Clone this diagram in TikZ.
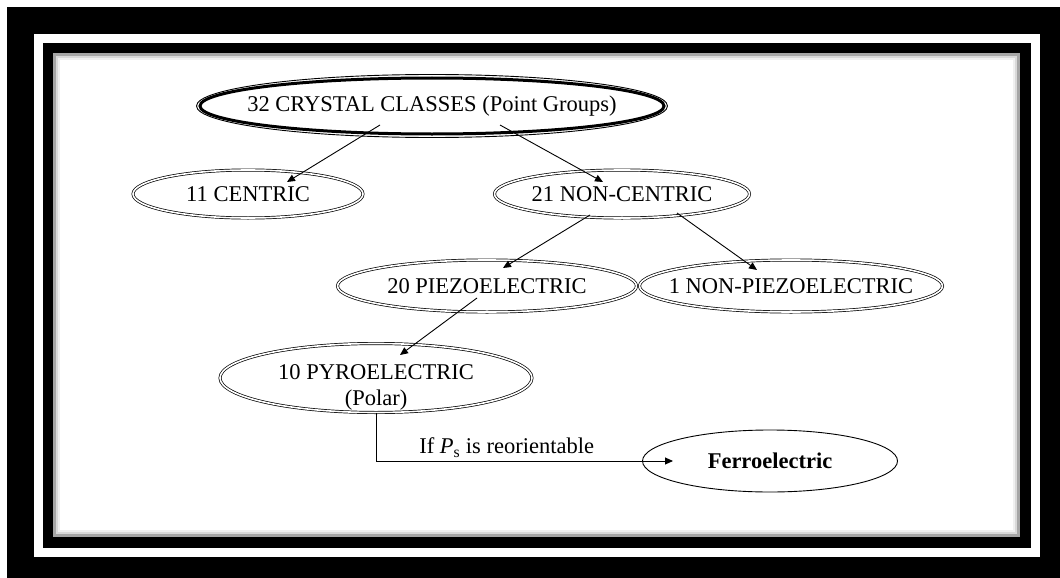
\documentclass[tikz,border=0pt]{standalone}
\usepackage{fontspec}
\setmainfont{Liberation Serif}
\usetikzlibrary{shapes.geometric,arrows.meta,calc}
\newcommand\zbox[1]{\raisebox{-2pt}{\makebox[0pt]{#1}}}
\begin{document}
\begin{tikzpicture}[x=1pt,y=-1pt,
  every node/.style={font=\fontsize{22.5}{26}\selectfont},
  cls/.style={ellipse, draw=black, line width=0.7pt, double=white, double distance=1.6pt, inner sep=0pt},
  plain/.style={ellipse, draw=black, line width=0.9pt, inner sep=0pt},
  link/.style={draw=black, line width=0.9pt, -{Triangle[length=8pt,width=7pt]}}
]
\useasboundingbox (0,0) rectangle (1060,578);
% frame
\fill[white] (0,0) rectangle (1060,578);
\fill[black] (7,7) rectangle (1060,578);
\fill[white] (34,34) rectangle (1040,557);
\fill[black] (43,43) rectangle (1031,548);
\fill[white] (53,53) rectangle (1020,537);
\draw[black!35, line width=3pt] (54.5,54.5) rectangle (1018.5,535.5);
\draw[black!15, line width=2pt] (57,57) rectangle (1016,533);
\draw[black!6, line width=2pt] (59,59) rectangle (1014,531);

% nodes
\node[plain, minimum width=471pt, minimum height=63pt] (top) at (432,106) {\zbox{32 CRYSTAL CLASSES (Point Groups)}};
\draw[line width=3pt] (top.center) ellipse [x radius=232pt, y radius=28pt];
\node[cls, minimum width=230pt, minimum height=48pt] (centric) at (248,194) {\zbox{11 CENTRIC}};
\node[cls, minimum width=255pt, minimum height=48pt] (noncentric) at (622,194) {\zbox{21 NON-CENTRIC}};
\node[cls, minimum width=299pt, minimum height=52pt] (piezo) at (487,286) {\zbox{20 PIEZOELECTRIC}};
\node[cls, minimum width=303pt, minimum height=52pt] (nonpiezo) at (791,286) {\zbox{1 NON-PIEZOELECTRIC}};
\node[cls, minimum width=312pt, minimum height=69pt,
      label={[align=center, yshift=-9pt]center:10 PYROELECTRIC\\(Polar)}] (pyro) at (376,378) {};
\node[plain, minimum width=255pt, minimum height=62pt, font=\fontsize{22.5}{26}\selectfont\bfseries] (ferro) at (770,461) {\zbox{Ferroelectric}};

% connectors
\draw[link] ($(top.center)+(-52,19)$) -- ($(centric.center)+(39,-12)$);
\draw[link] ($(top.center)+(68,19)$) -- ($(noncentric.center)+(-19,-12)$);
\draw[link] ($(noncentric.center)+(-32,21)$) -- ($(piezo.center)+(16,-18)$);
\draw[link] ($(noncentric.center)+(55,19)$) -- ($(nonpiezo.center)+(-34,-16)$);
\draw[link] ($(piezo.center)+(-10,12)$) -- ($(pyro.center)+(24,-23)$);
\draw[link] (pyro.south) |- node[pos=0.72, above=0pt] (lbl) {If \textit{P}\textsubscript{s} is reorientable} ($(ferro.center)+(-97,0)$);
\end{tikzpicture}
\end{document}
